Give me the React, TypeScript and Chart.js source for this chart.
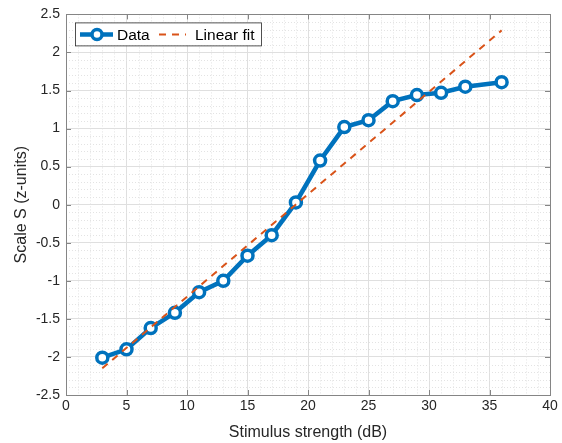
import React, { useEffect, useRef } from "react";
import { Chart, registerables } from "chart.js";

Chart.register(...registerables);

const stimulusDb = [3, 5, 7, 9, 11, 13, 15, 17, 19, 21, 23, 25, 27, 29, 31, 33, 36];
const scaleS = [-2.01, -1.9, -1.62, -1.42, -1.15, -1.0, -0.67, -0.4, 0.03, 0.58, 1.02, 1.11, 1.36, 1.44, 1.47, 1.55, 1.61];
const fitX = [3, 36];
const fitY = [-2.15, 2.29];
const xTickStep = 5;
const yTickStep = 0.5;
const xMinorStep = 1;
const yMinorStep = 0.1;

const BLUE = "#0072BD";
const ORANGE = "#D95319";
const AXIS = "#858585";
const FONT = "'Liberation Sans', Arial, Helvetica, sans-serif";

const minorGridPlugin = {
  id: "minorGrid",
  beforeDatasetsDraw(chart: any) {
    const { ctx, chartArea: a, scales } = chart;
    const xs = scales.x, ys = scales.y;
    ctx.save();
    ctx.strokeStyle = "#e3e3e3";
    ctx.lineWidth = 1;
    ctx.setLineDash([1, 2]);
    for (let v = xs.min; v <= xs.max + 1e-9; v += xMinorStep) {
      if (Math.abs(v / xTickStep - Math.round(v / xTickStep)) < 1e-6) continue;
      const p = Math.round(xs.getPixelForValue(v)) + 0.5;
      ctx.beginPath(); ctx.moveTo(p, a.top); ctx.lineTo(p, a.bottom); ctx.stroke();
    }
    for (let v = ys.min; v <= ys.max + 1e-9; v += yMinorStep) {
      if (Math.abs(v / yTickStep - Math.round(v / yTickStep)) < 1e-6) continue;
      const p = Math.round(ys.getPixelForValue(v)) + 0.5;
      ctx.beginPath(); ctx.moveTo(a.left, p); ctx.lineTo(a.right, p); ctx.stroke();
    }
    ctx.restore();
  },
  afterDatasetsDraw(chart: any) {
    const { ctx, chartArea: a, scales } = chart;
    const xs = scales.x, ys = scales.y;
    ctx.save();
    ctx.strokeStyle = AXIS;
    ctx.lineWidth = 1;
    ctx.setLineDash([]);
    ctx.strokeRect(Math.round(a.left) + 0.5, Math.round(a.top) + 0.5, Math.round(a.right - a.left), Math.round(a.bottom - a.top));
    const len = 5;
    for (let v = xs.min; v <= xs.max + 1e-9; v += xTickStep) {
      const p = Math.round(xs.getPixelForValue(v)) + 0.5;
      ctx.beginPath(); ctx.moveTo(p, a.bottom); ctx.lineTo(p, a.bottom - len); ctx.stroke();
      ctx.beginPath(); ctx.moveTo(p, a.top); ctx.lineTo(p, a.top + len); ctx.stroke();
    }
    for (let v = ys.min; v <= ys.max + 1e-9; v += yTickStep) {
      const p = Math.round(ys.getPixelForValue(v)) + 0.5;
      ctx.beginPath(); ctx.moveTo(a.left, p); ctx.lineTo(a.left + len, p); ctx.stroke();
      ctx.beginPath(); ctx.moveTo(a.right, p); ctx.lineTo(a.right - len, p); ctx.stroke();
    }
    // legend
    const lx = a.left + 9, ly = a.top + 8, lw = 186, lh = 23;
    ctx.fillStyle = "#ffffff";
    ctx.fillRect(lx, ly, lw, lh);
    ctx.strokeStyle = "#262626";
    ctx.lineWidth = 0.8;
    ctx.strokeRect(lx + 0.5, ly + 0.5, lw, lh);
    const cy = ly + lh / 2 + 0.5;
    const ds = chart.data.datasets;
    ctx.strokeStyle = BLUE;
    ctx.lineWidth = 4.5;
    ctx.beginPath(); ctx.moveTo(lx + 5, cy); ctx.lineTo(lx + 38, cy); ctx.stroke();
    ctx.lineWidth = 3.5;
    ctx.fillStyle = "#ffffff";
    ctx.beginPath(); ctx.arc(lx + 22, cy, 5, 0, Math.PI * 2); ctx.fill(); ctx.stroke();
    ctx.fillStyle = "#000000";
    ctx.font = `15.5px ${FONT}`;
    ctx.textBaseline = "middle";
    ctx.textAlign = "left";
    ctx.fillText(ds[0].label, lx + 42, cy + 1);
    ctx.strokeStyle = ORANGE;
    ctx.lineWidth = 2;
    ctx.setLineDash([7, 6]);
    ctx.beginPath(); ctx.moveTo(lx + 84, cy); ctx.lineTo(lx + 111, cy); ctx.stroke();
    ctx.setLineDash([]);
    ctx.fillText(ds[1].label, lx + 120, cy + 1);
    ctx.restore();
  },
};

const fmt = (v: any) => String(Number(Number(v).toFixed(2)));

export default function App() {
  const ref = useRef<HTMLCanvasElement>(null);
  useEffect(() => {
    document.body.style.margin = "0";
    const chart = new Chart(ref.current!, {
      type: "line",
      data: {
        datasets: [
          {
            label: "Data",
            data: stimulusDb.map((x, i) => ({ x, y: scaleS[i] })),
            borderColor: BLUE,
            backgroundColor: "#ffffff",
            borderWidth: 4.5,
            pointRadius: 5.5,
            pointBorderWidth: 3.5,
            pointBackgroundColor: "#ffffff",
            pointBorderColor: BLUE,
            tension: 0,
            order: 1,
          },
          {
            label: "Linear fit",
            data: fitX.map((x, i) => ({ x, y: fitY[i] })),
            borderColor: ORANGE,
            borderWidth: 2,
            borderDash: [7, 6],
            pointRadius: 0,
            tension: 0,
            order: 0,
          },
        ],
      },
      options: {
        responsive: false,
        animation: false,
        events: [],
        layout: { padding: { top: 13, right: 12, left: 0, bottom: 0 } },
        plugins: { legend: { display: false }, tooltip: { enabled: false } },
        scales: {
          x: {
            type: "linear",
            min: 0,
            max: 40,
            afterFit: (s: any) => { s.height = 48; },
            ticks: { stepSize: xTickStep, color: "#262626", font: { family: FONT, size: 14 }, padding: 3, maxRotation: 0, callback: fmt },
            grid: { color: "#dfdfdf", drawTicks: false },
            border: { display: false },
            title: { display: true, text: "Stimulus strength (dB)", color: "#262626", font: { family: FONT, size: 16 }, padding: { top: 0, bottom: 1 } },
          },
          y: {
            type: "linear",
            min: -2.5,
            max: 2.5,
            afterFit: (s: any) => { s.width = 66; },
            ticks: { stepSize: yTickStep, color: "#262626", font: { family: FONT, size: 14 }, padding: 6, callback: fmt },
            grid: { color: "#dfdfdf", drawTicks: false },
            border: { display: false },
            title: { display: true, text: "Scale S (z-units)", color: "#262626", font: { family: FONT, size: 16 }, padding: { top: 12, bottom: 0 } },
          },
        },
      },
      plugins: [minorGridPlugin],
    } as any);
    return () => chart.destroy();
  }, []);
  return (
    <div style={{ width: 562, height: 443 }}>
      <canvas ref={ref} width={562} height={443} />
    </div>
  );
}
